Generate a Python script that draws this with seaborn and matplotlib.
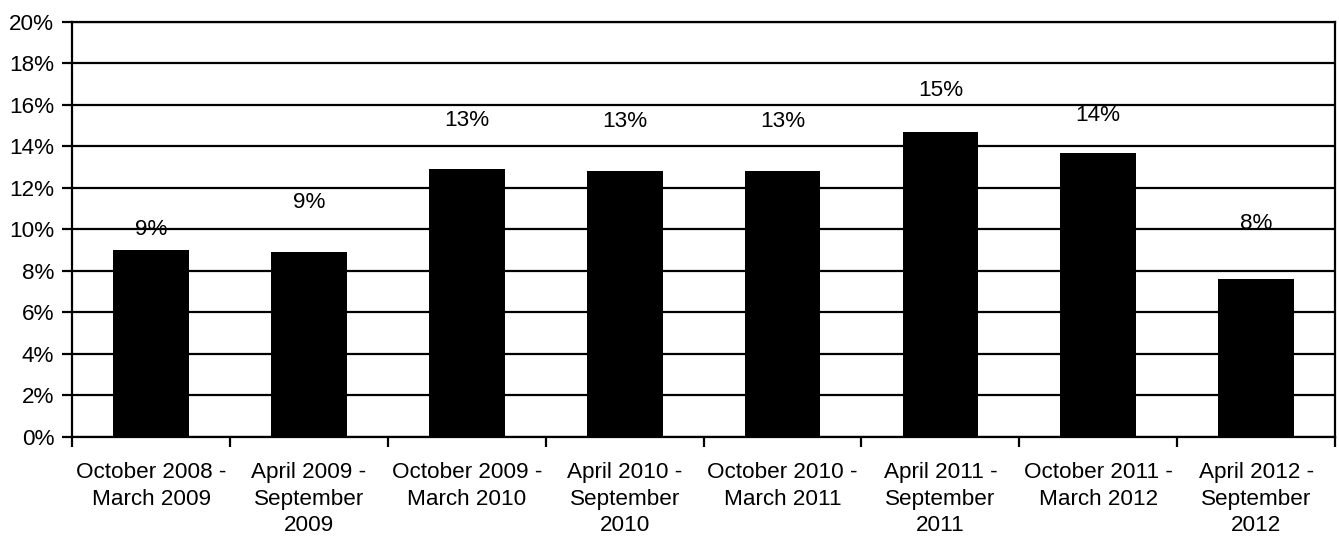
import matplotlib
matplotlib.use("Agg")
import matplotlib.pyplot as plt
import seaborn as sns
import pandas as pd
import numpy as np
from matplotlib.ticker import FixedLocator, FuncFormatter

periods = [
    "October 2008 -\nMarch 2009",
    "April 2009 -\nSeptember\n2009",
    "October 2009 -\nMarch 2010",
    "April 2010 -\nSeptember\n2010",
    "October 2010 -\nMarch 2011",
    "April 2011 -\nSeptember\n2011",
    "October 2011 -\nMarch 2012",
    "April 2012 -\nSeptember\n2012",
]
values = [9.0, 8.9, 12.9, 12.8, 12.8, 14.7, 13.7, 7.6]
value_labels = ["9%", "9%", "13%", "13%", "13%", "15%", "14%", "8%"]
# vertical offsets (points) of the value labels above each bar
label_offsets = [15, 36, 35, 36, 36, 30, 27, 40]
y_ticks = list(range(0, 21, 2))

sns.set_style("white")
plt.rcParams["font.family"] = ["Liberation Sans", "DejaVu Sans"]
plt.rcParams["xtick.bottom"] = True
plt.rcParams["ytick.left"] = True
plt.rcParams["text.color"] = "black"
plt.rcParams["xtick.color"] = "black"
plt.rcParams["ytick.color"] = "black"
plt.rcParams["axes.labelcolor"] = "black"

df = pd.DataFrame({"period": periods, "value": values})

fig = plt.figure(figsize=(13.39, 5.49), dpi=100)
ax = fig.add_axes([0.054, 0.204, 0.943, 0.756])

sns.barplot(data=df, x="period", y="value", color="black", saturation=1,
            width=0.48, ax=ax, zorder=3, edgecolor="black", linewidth=0)

ax.set_ylim(0, 20)
ax.set_xlim(-0.5, len(periods) - 0.5)
ax.yaxis.set_major_locator(FixedLocator(y_ticks))
ax.yaxis.set_major_formatter(FuncFormatter(lambda v, p: f"{v:.0f}%"))
ax.grid(axis="y", color="black", linewidth=1.6, zorder=0)
ax.set_axisbelow(True)

ax.set_xlabel("")
ax.set_ylabel("")

fs = 16.2
# boundary tick marks
ax.set_xticks(np.arange(-0.5, len(periods) + 0.5, 1), minor=True)
ax.tick_params(axis="x", which="minor", bottom=True, length=7, width=1.6,
               color="black", direction="out")
ax.tick_params(axis="x", which="major", bottom=True, length=0, pad=18,
               labelsize=fs, labelcolor="black")
ax.tick_params(axis="y", which="major", left=True, length=7, width=1.6, color="black",
               direction="out", pad=6, labelsize=fs, labelcolor="black")
for lbl in ax.get_xticklabels():
    lbl.set_linespacing(1.35)

for s in ["left", "right", "bottom", "top"]:
    ax.spines[s].set_visible(True)
    ax.spines[s].set_color("black")
    ax.spines[s].set_linewidth(1.6)

for i, (v, t, off) in enumerate(zip(values, value_labels, label_offsets)):
    ax.annotate(t, (i, v), xytext=(0, off), textcoords="offset points",
                ha="center", va="center", fontsize=fs, color="black", zorder=4)

fig.savefig("out.png", dpi=100, facecolor="white")
